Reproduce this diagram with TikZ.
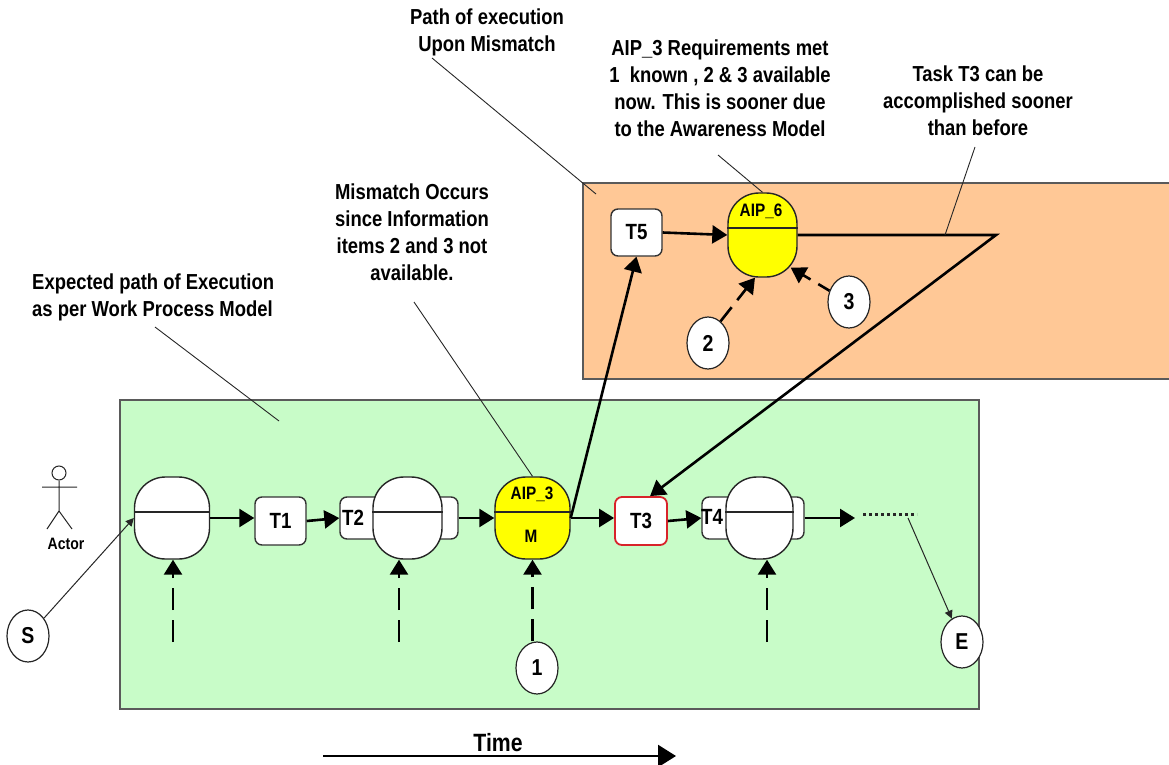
\documentclass[tikz,border=0pt]{standalone}
\usepackage{xcolor}
\usepackage{fontspec}
\setmainfont[FakeStretch=0.85]{Liberation Sans}
\usetikzlibrary{positioning, arrows.meta, calc, shapes.geometric}
\definecolor{workgreen}{HTML}{C8FCC8}
\definecolor{awareorange}{HTML}{FFC896}
\definecolor{boxgrey}{HTML}{5A5A5A}
\definecolor{aipyellow}{HTML}{FFFF00}
\definecolor{taskred}{HTML}{D8232A}
\tikzset{
  txt/.style={font=\bfseries\fontsize{21.7}{27}\selectfont, align=center, inner sep=0pt},
  small/.style={font=\bfseries\fontsize{#1}{#1}\selectfont},
  zone/.style={draw=boxgrey, line width=1.6pt, inner sep=0pt},
  aip/.style={draw=black!85, fill=white, line width=1.4pt, rounded corners=31pt, minimum width=#1, minimum height=82pt, inner sep=0pt},
  aip/.default=75pt,
  task/.style={draw=black!80, fill=white, line width=1.4pt, rounded corners=7pt, inner sep=0pt, small=22},
  info/.style={draw=black!85, fill=white, line width=1.2pt, ellipse, minimum width=42pt, minimum height=52pt, inner sep=0pt, small=23},
  flow/.style={-{Triangle[length=15pt, width=18pt]}, line width=2.6pt, black},
  inflow/.style={flow, dash pattern=on 22pt off 10pt},
  note/.style={line width=0.9pt, black!85},
  thin arrow/.style={-{Triangle[length=8pt, width=8pt]}, line width=1pt, black!85}
}
\begin{document}
\begin{tikzpicture}[x=1pt, y=-1pt]
  \useasboundingbox (0,0) rectangle (1169,765);

  \node[zone, fill=workgreen, minimum width=859pt, minimum height=309pt] (workzone) at (549.5,554.5) {};
  \node[zone, fill=awareorange, minimum width=600pt, minimum height=196pt] (awarezone) at (883,281) {};

  % texts
  \node[txt, align=left, anchor=north west] (lblexpected) at (32,274) {Expected path of Execution\\as per Work Process Model};
  \node[txt] (lblmismatch) at (412,232) {Mismatch Occurs\\since Information\\items 2 and 3 not\\available.};
  \node[txt] (lblpath) at (487,32) {Path of execution\\Upon Mismatch};
  \node[txt] (lblreq) at (720,88) {AIP\_3 Requirements met\\1\ \ known , 2 \& 3 available\\now. This is sooner due\\to the Awareness Model};
  \node[txt] (lbltask) at (978,101) {Task T3 can be\\accomplished sooner\\than before};
  \node[txt, small=25] (lbltime) at (498,743) {Time};

  % tasks behind the activity shapes
  \node[task, minimum width=118pt, minimum height=42pt] (boxtwo) at (399,518) {};
  \node[task, minimum width=102pt, minimum height=42pt] (boxfour) at (753,518) {};
  \node[task, minimum width=51pt, minimum height=48pt] (tone) at (280.5,521) {T1};
  \node[task, draw=taskred, line width=1.8pt, minimum width=52pt, minimum height=48pt] (tthree) at (641,521) {T3};
  \node[task, minimum width=51pt, minimum height=47pt] (tfive) at (636.5,232.5) {T5};

  % activities
  \node[aip] (aone) at (172,518) {};
  \node[aip=69pt] (atwo) at (407.5,518) {};
  \node[aip, fill=aipyellow] (athree) at (532.5,518) {};
  \node[aip=67pt] (afour) at (759.5,518) {};
  \node[aip=69pt, minimum height=84pt, fill=aipyellow] (asix) at (762.5,235) {};
  \foreach \a in {aone, atwo, athree, afour, asix}
    \draw[line width=1.8pt, black!85] ($(\a.north west)+(0,36)$) -- ($(\a.north east)+(0,36)$);

  \node[txt, small=22] (ttwo) at (353,518) {T2};
  \node[txt, small=22] (tfour) at (712,517) {T4};
  \node[txt, small=18] (aipthree) at (532,494) {AIP\_3};
  \node[txt, small=18] (aipm) at (531,536) {M};
  \node[txt, small=18] (aipsix) at (761,211) {AIP\_6};

  % information items
  \node[info] (start) at (28,636) {S};
  \node[info] (end) at (962,642) {E};
  \node[info] (one) at (537,668) {1};
  \node[info] (two) at (708,343) {2};
  \node[info] (three) at (849,302) {3};

  % actor
  \node[draw=black!85, circle, line width=1pt, minimum size=14pt, inner sep=0pt] (head) at (59,473) {};
  \node[txt, small=16.5] (actor) at (66,544) {Actor};
  \coordinate (hip) at (59,511);
  \draw[line width=1pt, black!85] (head) -- (hip) (42,487) -- (77,487) (47,529) -- (hip) -- (72,529);

  % main path
  \coordinate (dotstart) at (863,514);
  \coordinate (dotend) at (917,514);
  \coordinate (flowend) at (855,518);
  \coordinate (apex) at (996,235);
  \draw[flow] (aone.east) -- (aone.east -| tone.west);
  \draw[flow] (tone.east) -- (boxtwo.west);
  \draw[flow] (boxtwo.east) -- (athree.west);
  \draw[flow] (athree.east) -- (athree.east -| tthree.west);
  \draw[flow] (tthree.east) -- (boxfour.west);
  \draw[flow] (boxfour.east) -- (flowend);
  \draw[flow] (athree.east) -- (tfive.south);
  \draw[flow] (tfive.east) -- (asix.west);
  \draw[flow, line join=miter] (asix.east) -- (apex) -- (tthree.70);
  \draw[line width=3pt, dash pattern=on 3pt off 3pt, black!85] (dotstart) -- (dotend);

  % inputs
  \foreach \a/\x in {aone/173, atwo/399, afour/767} {
    \coordinate (in\a) at (\x,642);
    \draw[inflow] (in\a) -- (in\a |- \a.south);
  }
  \draw[inflow] (athree.south |- one.north) -- (athree.south);
  \draw[inflow, dash pattern=on 18pt off 9pt] (two.60) -- (asix.260);
  \draw[inflow, dash pattern=on 13pt off 9pt] (three.150) -- ($(asix.south east)+(-7,-10)$);

  % thin connectors
  \draw[thin arrow] (start) -- (aone.west);
  \coordinate (dotdrop) at (908,518);
  \draw[thin arrow] (dotdrop) -- (end);

  % notes
  \coordinate (expectedend) at (279,421);
  \coordinate (pathend) at (596,194);
  \coordinate (taskend) at (945,235);
  \draw[note] (155,327) -- (expectedend);
  \draw[note] (414,302) -- (athree.north);
  \draw[note] (432,58) -- (pathend);
  \draw[note] (718,155) -- (asix.north);
  \draw[note] (975,147) -- (taskend);

  % time arrow
  \coordinate (timestart) at (323,756);
  \coordinate (timeend) at (676,756);
  \draw[-{Triangle[length=18pt, width=22pt]}, line width=2.4pt, black] (timestart) -- (timeend);
\end{tikzpicture}
\end{document}
